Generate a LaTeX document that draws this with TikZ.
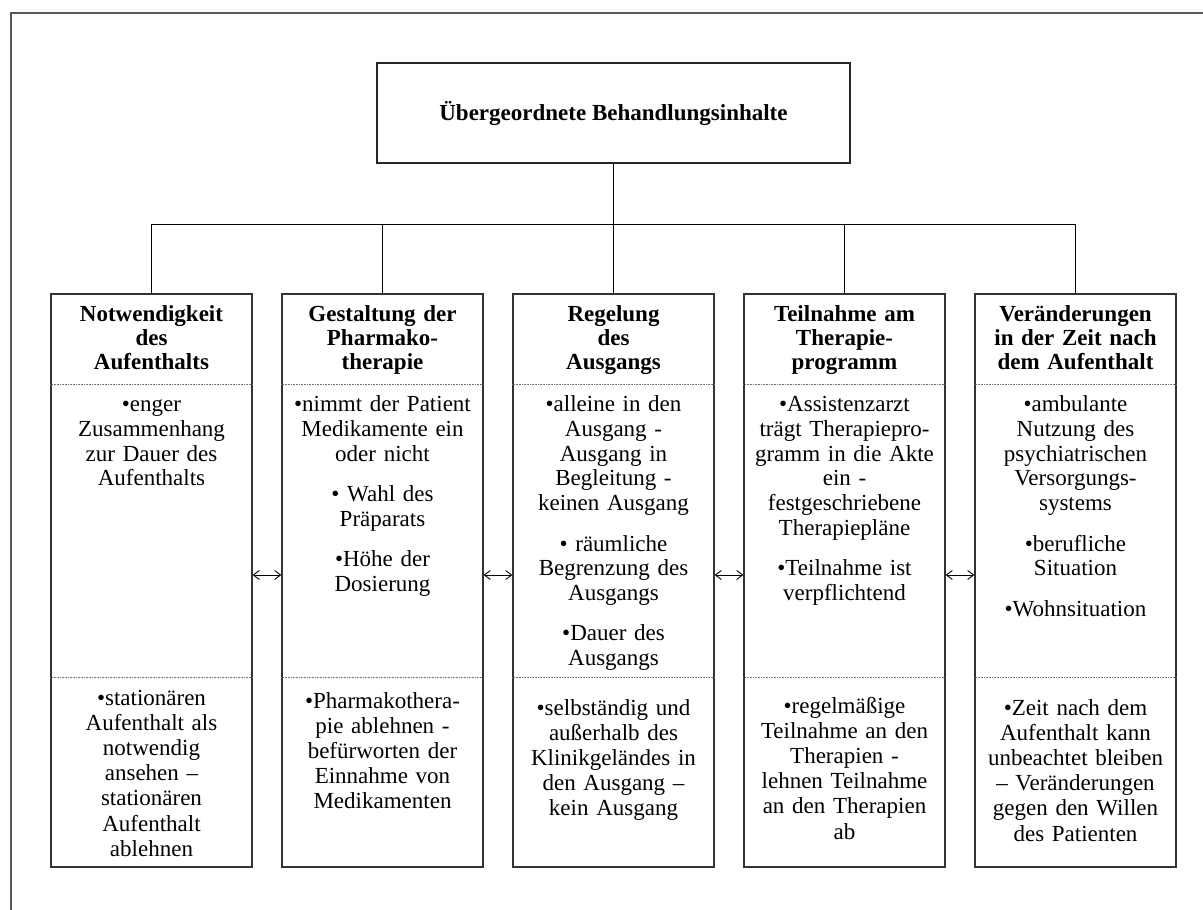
\documentclass[tikz,border=0pt]{standalone}
\usepackage{fontspec}
\setmainfont{Liberation Serif}
\usetikzlibrary{arrows.meta}

\begin{document}
\begin{tikzpicture}[x=1pt,y=-1pt,
  frame/.style={draw=black!65, line width=1.4pt},
  box/.style={draw=black!80, line width=1.2pt, inner sep=0pt,
    minimum width=201pt, minimum height=573pt},
  topbox/.style={draw=black!85, line width=1.2pt, inner sep=0pt,
    minimum width=473pt, minimum height=100pt,
    font=\fontsize{23}{25}\selectfont\bfseries},
  link/.style={draw=black, line width=1pt},
  sep/.style={draw=black!55, line width=0.7pt, dash pattern=on 0.8pt off 0.8pt},
  dbl/.style={line width=0.9pt,
    {Straight Barb[length=6pt,width=9pt]}-{Straight Barb[length=6pt,width=9pt]}},
  head/.style={anchor=base, text width=199pt, align=center, inner sep=0pt,
    font=\fontsize{23}{24.3}\selectfont\bfseries},
  body/.style={anchor=base, text width=199pt, align=center, inner sep=0pt,
    font=\fontsize{23}{24.8}\selectfont},
  foot/.style={anchor=base, text width=199pt, align=center, inner sep=0pt,
    font=\fontsize{23}{25.2}\selectfont},
]
\useasboundingbox (0,0) rectangle (1203,910);

% open frame along the top and left edge
\draw[frame] (11,910) -- (11,13) -- (1203,13);

% root node
\node[topbox] (top) at (613.5,113) {Übergeordnete Behandlungsinhalte};

% the five columns
\node[box] (b1) at (151.5,580.5) {};
\node[box] (b2) at (382.5,580.5) {};
\node[box] (b3) at (613.5,580.5) {};
\node[box] (b4) at (844.5,580.5) {};
\node[box] (b5) at (1075.5,580.5) {};

% tree connectors
\coordinate (bus) at (0,224);
\draw[link] (top.south) -- (top.south |- bus);
\draw[link] (b1.north) -- (b1.north |- bus) -- (b5.north |- bus) -- (b5.north);
\draw[link] (b2.north |- bus) -- (b2.north);
\draw[link] (b3.north |- bus) -- (b3.north);
\draw[link] (b4.north |- bus) -- (b4.north);

% dotted section separators inside each column
\coordinate (s1) at (0,384);
\coordinate (s2) at (0,677);
\foreach \b in {b1,b2,b3,b4,b5}{
  \draw[sep] (\b.west |- s1) -- (\b.east |- s1);
  \draw[sep] (\b.west |- s2) -- (\b.east |- s2);
}

% double arrows between neighbouring columns
\draw[dbl] ([yshift=5.5pt]b1.east) -- ([yshift=5.5pt]b2.west);
\draw[dbl] ([yshift=5.5pt]b2.east) -- ([yshift=5.5pt]b3.west);
\draw[dbl] ([yshift=5.5pt]b3.east) -- ([yshift=5.5pt]b4.west);
\draw[dbl] ([yshift=5.5pt]b4.east) -- ([yshift=5.5pt]b5.west);

% column 1
\node[head] (h1) at (151.5,321) {Notwendigkeit\\des\\Aufenthalts};
\node[body] (m1) at (151.5,411.5) {•enger\\Zusammenhang\\zur Dauer des\\Aufenthalts};
\node[foot] (l1) at (151.5,705) {•stationären\\Aufenthalt als\\notwendig\\ansehen –\\stationären\\Aufenthalt\\ablehnen};

% column 2
\node[head] (h2) at (382.5,321) {Gestaltung der\\Pharmako-\\therapie};
\node[body] (m2) at (382.5,411.5) {•nimmt der Patient\\Medikamente ein\\oder nicht\\[15.5pt]
  • Wahl des\\Präparats\\[15.5pt]•Höhe der\\Dosierung};
\node[foot] (l2) at (382.5,708) {•Pharmakothera-\\pie ablehnen -\\befürworten der\\Einnahme von\\Medikamenten};

% column 3
\node[head] (h3) at (613.5,321) {Regelung\\des\\Ausgangs};
\node[body] (m3) at (613.5,411.5) {•alleine in den\\Ausgang -\\Ausgang in\\Begleitung -\\keinen Ausgang\\[15.5pt]
  • räumliche\\Begrenzung des\\Ausgangs\\[15.5pt]•Dauer des\\Ausgangs};
\node[foot] (l3) at (613.5,715) {•selbständig und\\außerhalb des\\Klinikgeländes in\\den Ausgang –\\kein Ausgang};

% column 4
\node[head] (h4) at (844.5,321) {Teilnahme am\\Therapie-\\programm};
\node[body] (m4) at (844.5,411.5) {•Assistenzarzt\\trägt Therapiepro-\\gramm in die Akte\\ein -\\festgeschriebene\\Therapiepläne\\[15.5pt]
  •Teilnahme ist\\verpflichtend};
\node[foot] (l4) at (844.5,713) {•regelmäßige\\Teilnahme an den\\Therapien -\\lehnen Teilnahme\\an den Therapien\\ab};

% column 5
\node[head] (h5) at (1075.5,321) {Veränderungen\\in der Zeit nach\\dem Aufenthalt};
\node[body] (m5) at (1075.5,411.5) {•ambulante\\Nutzung des\\psychiatrischen\\Versorgungs-\\systems\\[15.5pt]
  •berufliche\\Situation\\[15.5pt]•Wohnsituation};
\node[foot] (l5) at (1075.5,715) {•Zeit nach dem\\Aufenthalt kann\\unbeachtet bleiben\\– Veränderungen\\gegen den Willen\\des Patienten};
\end{tikzpicture}
\end{document}
